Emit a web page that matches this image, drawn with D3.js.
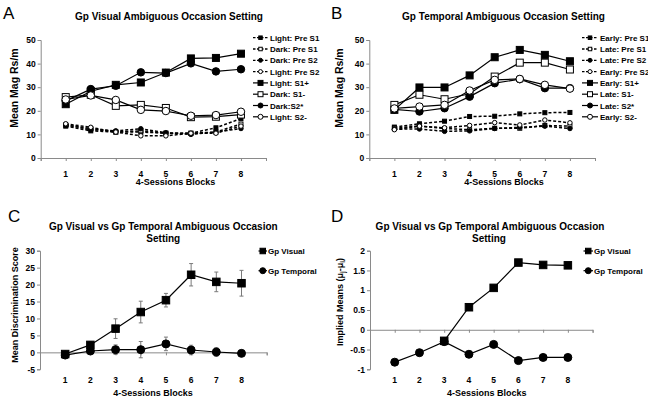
<!DOCTYPE html>
<html><head><meta charset="utf-8">
<script src="https://cdn.jsdelivr.net/npm/d3@7"></script>
<style>
body{margin:0;background:#fff;}
text{font-family:"Liberation Sans",Arial,sans-serif;}
</style>
</head><body>
<svg id="chart" width="648" height="400"></svg>
<script>
// ---------- DATA ----------
const blocks = [1,2,3,4,5,6,7,8];
const xTickLabels = ["1","2","3","4","5","6","7","8"];

// Panel A (Gp Visual)
const aNames = ["Light: Pre S1","Dark: Pre S1","Dark: Pre S2","Light: Pre S2","Light: S1+","Dark: S1-","Dark:S2*","Light: S2-"];
const aLightPreS1 = [13.5,11.5,11,11,10.5,10.5,12.8,16.7];
const aDarkPreS1  = [14,12.5,11,11.5,10.5,10.5,11,14.4];
const aDarkPreS2  = [14,12,11.5,12.4,10.7,10,11,12.5];
const aLightPreS2 = [14.5,13,11,9.4,9.4,10.5,10.5,13.5];
const aLightS1p   = [22.8,28.3,31,32,36.2,42.2,42.4,44.2];
const aDarkS1m    = [25.8,26.8,22.1,22.5,21.2,17.3,17.5,18.4];
const aDarkS2s    = [24.2,29.2,30.6,36.3,36,40.1,36.7,37.6];
const aLightS2m   = [24.8,26.5,24.6,20.4,19.9,17.9,18.2,19.6];

// Panel B (Gp Temporal)
const bNames = ["Early: Pre S1","Late: Pre S1","Late: Pre S2","Early: Pre S2","Early: S1+","Late: S1-","Late: S2*","Early: S2-"];
const bEarlyPreS1 = [13.1,14.5,15.6,17.6,17.7,18.7,19.2,19.3];
const bLatePreS1  = [12.6,13.6,12.5,12,12.6,12.6,13.8,13.5];
const bLatePreS2  = [12.2,12.3,11.3,11.5,12.5,13,13.5,12.5];
const bEarlyPreS2 = [12,13.5,12.8,13.8,15,14,16.1,14.9];
const bEarlyS1p   = [20.4,29.9,29.9,35,42.7,45.8,43.7,41];
const bLateS1m    = [22.5,26.8,24.9,27.2,34.5,40.4,40.4,37.5];
const bLateS2s    = [20.6,19.7,21.1,26,31.7,33.4,29.6,29.6];
const bEarlyS2m   = [21,21.8,22.5,28.6,33.1,33.5,31,29.4];

// Panel C (discrimination score)
const cNames = ["Gp Visual","Gp Temporal"];
const cVisual      = [-0.5,2.2,7,11.9,15.4,22.9,20.8,20.4];
const cVisualErr   = [0.5,1,2.9,3.2,2,3.3,2.9,3.8];
const cTemporal    = [-0.8,0.4,0.8,0.8,2.5,0.7,0.1,-0.3];
const cTemporalErr = [0.4,0.6,1.4,2.4,2,1.4,1.3,0.6];

// Panel D (implied means)
const dNames = ["Gp Visual","Gp Temporal"];
const dVisual   = [null,null,-0.28,0.57,1.06,1.7,1.64,1.63];
const dTemporal = [-0.82,-0.58,-0.3,-0.62,-0.37,-0.78,-0.7,-0.7];

// ---------- DRAWING ----------
const svg = d3.select("#chart");
const AXIS = "#8a8a8a";

function marker(g, shape, fill, size, cx, cy) {
  if (shape === "square") {
    g.append("rect").attr("x", cx - size/2).attr("y", cy - size/2)
      .attr("width", size).attr("height", size)
      .attr("fill", fill).attr("stroke", "#000").attr("stroke-width", 1);
  } else {
    g.append("circle").attr("cx", cx).attr("cy", cy).attr("r", size/2)
      .attr("fill", fill).attr("stroke", "#000").attr("stroke-width", 1);
  }
}

function drawSeries(g, x, y, vals, s) {
  const pts = blocks.map((b, i) => [b, vals[i]]).filter(p => p[1] !== null);
  const line = d3.line().x(d => x(d[0])).y(d => y(d[1]));
  g.append("path").attr("d", line(pts)).attr("fill", "none")
    .attr("stroke", "#000").attr("stroke-width", s.dashed ? 1.5 : 1.2)
    .attr("stroke-dasharray", s.dashed ? "3,2" : null);
  pts.forEach(p => marker(g, s.shape, s.fill, s.size, x(p[0]), y(p[1])));
}

function drawAxes(g, x, y, yTicks, x0val, labelY, fs) {
  const ya = g.append("g").attr("transform", `translate(${x.range()[0]},0)`)
    .call(d3.axisLeft(y).tickValues(yTicks).tickSize(3).tickPadding(2).tickFormat(d => String(d)));
  ya.select(".domain").attr("stroke", AXIS);
  ya.selectAll(".tick line").attr("stroke", AXIS);
  ya.selectAll("text").attr("font-size", fs).attr("font-weight", "bold")
    .attr("font-family", "Liberation Sans, Arial, sans-serif").attr("fill", "#000");
  const xa = g.append("g").attr("transform", `translate(0,${y(x0val)})`)
    .call(d3.axisBottom(x).tickValues(d3.range(0, 10)).tickSize(3).tickFormat(""));
  xa.select(".domain").attr("stroke", AXIS);
  xa.selectAll(".tick line").attr("stroke", AXIS);
  g.append("g").selectAll("text").data(blocks).join("text")
    .attr("x", d => x(d)).attr("y", labelY).attr("text-anchor", "middle")
    .attr("font-size", fs).attr("font-weight", "bold").text((d, i) => xTickLabels[i]);
}

function text(t, x, y, opts) {
  const e = svg.append("text").attr("x", x).attr("y", y).text(t)
    .attr("font-size", opts.size || 10).attr("font-weight", opts.weight || "bold")
    .attr("text-anchor", opts.anchor || "middle");
  if (opts.rotate) e.attr("transform", `rotate(-90,${x},${y})`);
  return e;
}

function legend(items, x0, x1, tx, y0, dy, fs) {
  const g = svg.append("g");
  items.forEach((s, i) => {
    const yy = y0 + i * dy;
    g.append("line").attr("x1", x0).attr("x2", x1).attr("y1", yy).attr("y2", yy)
      .attr("stroke", "#000").attr("stroke-width", s.dashed ? 1.3 : 1.2)
      .attr("stroke-dasharray", s.dashed ? "2.5,1.5" : null);
    marker(g, s.shape, s.fill, s.lsize, (x0 + x1) / 2, yy);
    g.append("text").attr("x", tx).attr("y", yy + 3).attr("font-size", fs)
      .attr("font-weight", "bold").text(s.name);
  });
}

function styleList(names, kinds) {
  return names.map((n, i) => Object.assign({name: n}, kinds[i]));
}
const kinds = [
  {shape:"square", fill:"#000", dashed:true, size:4, lsize:3.5},
  {shape:"square", fill:"#fff", dashed:true, size:4, lsize:3.5},
  {shape:"circle", fill:"#000", dashed:true, size:4.5, lsize:4},
  {shape:"circle", fill:"#fff", dashed:true, size:4.5, lsize:4},
  {shape:"square", fill:"#000", dashed:false, size:7, lsize:5},
  {shape:"square", fill:"#fff", dashed:false, size:7, lsize:5},
  {shape:"circle", fill:"#000", dashed:false, size:7.5, lsize:5},
  {shape:"circle", fill:"#fff", dashed:false, size:7.5, lsize:5}
];

// ---- Panel A ----
{
  const g = svg.append("g");
  const x = d3.scaleLinear().domain([0, 9]).range([40.7, 266]);
  const y = d3.scaleLinear().domain([0, 50]).range([158, 40]);
  drawAxes(g, x, y, [0,10,20,30,40,50], 0, 176.5, 8.5);
  const st = styleList(aNames, kinds);
  const vals = [aLightPreS1,aDarkPreS1,aDarkPreS2,aLightPreS2,aLightS1p,aDarkS1m,aDarkS2s,aLightS2m];
  vals.forEach((v, i) => drawSeries(g, x, y, v, st[i]));
  legend(st, 253, 268, 270, 37.7, 11.3, 8);
  text("A", 3, 19, {size: 17, weight: "normal", anchor: "start"});
  text("Gp Visual Ambiguous Occasion Setting", 169, 19.5, {size: 10});
  text("4-Sessions Blocks", 175.5, 185, {size: 9});
  text("Mean Mag Rs/m", 18, 88, {size: 10.5, rotate: true});
}

// ---- Panel B ----
{
  const g = svg.append("g");
  const x = d3.scaleLinear().domain([0, 9]).range([369.3, 595]);
  const y = d3.scaleLinear().domain([0, 50]).range([158, 40]);
  drawAxes(g, x, y, [0,10,20,30,40,50], 0, 176.5, 8.5);
  const st = styleList(bNames, kinds);
  const vals = [bEarlyPreS1,bLatePreS1,bLatePreS2,bEarlyPreS2,bEarlyS1p,bLateS1m,bLateS2s,bEarlyS2m];
  vals.forEach((v, i) => drawSeries(g, x, y, v, st[i]));
  legend(st, 582, 598, 600, 37.7, 11.3, 8);
  text("B", 331, 19, {size: 17, weight: "normal", anchor: "start"});
  text("Gp Temporal Ambiguous Occasion Setting", 503.5, 19.5, {size: 10});
  text("4-Sessions Blocks", 504, 185, {size: 9});
  text("Mean Mag Rs/m", 343, 88, {size: 10.5, rotate: true});
}

// ---- Panel C ----
{
  const g = svg.append("g");
  const x = d3.scaleLinear().domain([0, 9]).range([40, 266.7]);
  const y = d3.scaleLinear().domain([-5, 30]).range([369.3, 250.7]);
  drawAxes(g, x, y, [-5,0,5,10,15,20,25,30], 0, 383, 8.5);
  const sv = {shape:"square", fill:"#000", dashed:false, size:7.5, lsize:5.5, name: cNames[0]};
  const stp = {shape:"circle", fill:"#000", dashed:false, size:8, lsize:6, name: cNames[1]};
  [[cVisual, cVisualErr], [cTemporal, cTemporalErr]].forEach(([v, e]) => {
    blocks.forEach((b, i) => {
      const cx = x(b);
      g.append("line").attr("x1", cx).attr("x2", cx).attr("y1", y(v[i] - e[i])).attr("y2", y(v[i] + e[i]))
        .attr("stroke", "#7a7a7a").attr("stroke-width", 1);
      [v[i] - e[i], v[i] + e[i]].forEach(w => g.append("line").attr("x1", cx - 2).attr("x2", cx + 2)
        .attr("y1", y(w)).attr("y2", y(w)).attr("stroke", "#7a7a7a").attr("stroke-width", 1));
    });
  });
  drawSeries(g, x, y, cVisual, sv);
  drawSeries(g, x, y, cTemporal, stp);
  legend([sv, stp], 258.5, 267, 268, 251, 19.7, 8);
  text("C", 8, 222, {size: 17, weight: "normal", anchor: "start"});
  text("Gp Visual vs Gp Temporal Ambiguous Occasion", 163.3, 229.5, {size: 10});
  text("Setting", 163.3, 241.5, {size: 10});
  text("4-Sessions Blocks", 153, 396, {size: 9});
  text("Mean Discrimination Score", 18, 305, {size: 9, rotate: true});
}

// ---- Panel D ----
{
  const g = svg.append("g");
  const x = d3.scaleLinear().domain([0, 9]).range([370, 592.6]);
  const y = d3.scaleLinear().domain([-1, 2]).range([369.3, 250.7]);
  drawAxes(g, x, y, [-1,-0.5,0,0.5,1,1.5,2], 0, 383, 8.5);
  const sv = {shape:"square", fill:"#000", dashed:false, size:7.5, lsize:5.5, name: dNames[0]};
  const stp = {shape:"circle", fill:"#000", dashed:false, size:8, lsize:6, name: dNames[1]};
  drawSeries(g, x, y, dTemporal, stp);
  drawSeries(g, x, y, dVisual, sv);
  legend([sv, stp], 583.5, 593, 594, 251, 19.7, 8);
  text("D", 331, 222, {size: 17, weight: "normal", anchor: "start"});
  text("Gp Visual vs Gp Temporal Ambiguous Occasion", 490, 229.5, {size: 10});
  text("Setting", 489, 241.5, {size: 10});
  text("4-Sessions Blocks", 486.7, 396, {size: 9});
  const yl = text("", 343, 302, {size: 9, rotate: true});
  yl.append("tspan").text("Implied Means (μ");
  yl.append("tspan").attr("font-size", 6.5).attr("dy", 2).text("j");
  yl.append("tspan").attr("dy", -2).text("-μ");
  yl.append("tspan").attr("font-size", 6.5).attr("dy", 2).text("i");
  yl.append("tspan").attr("dy", -2).text(")");
}
</script>
</body></html>
